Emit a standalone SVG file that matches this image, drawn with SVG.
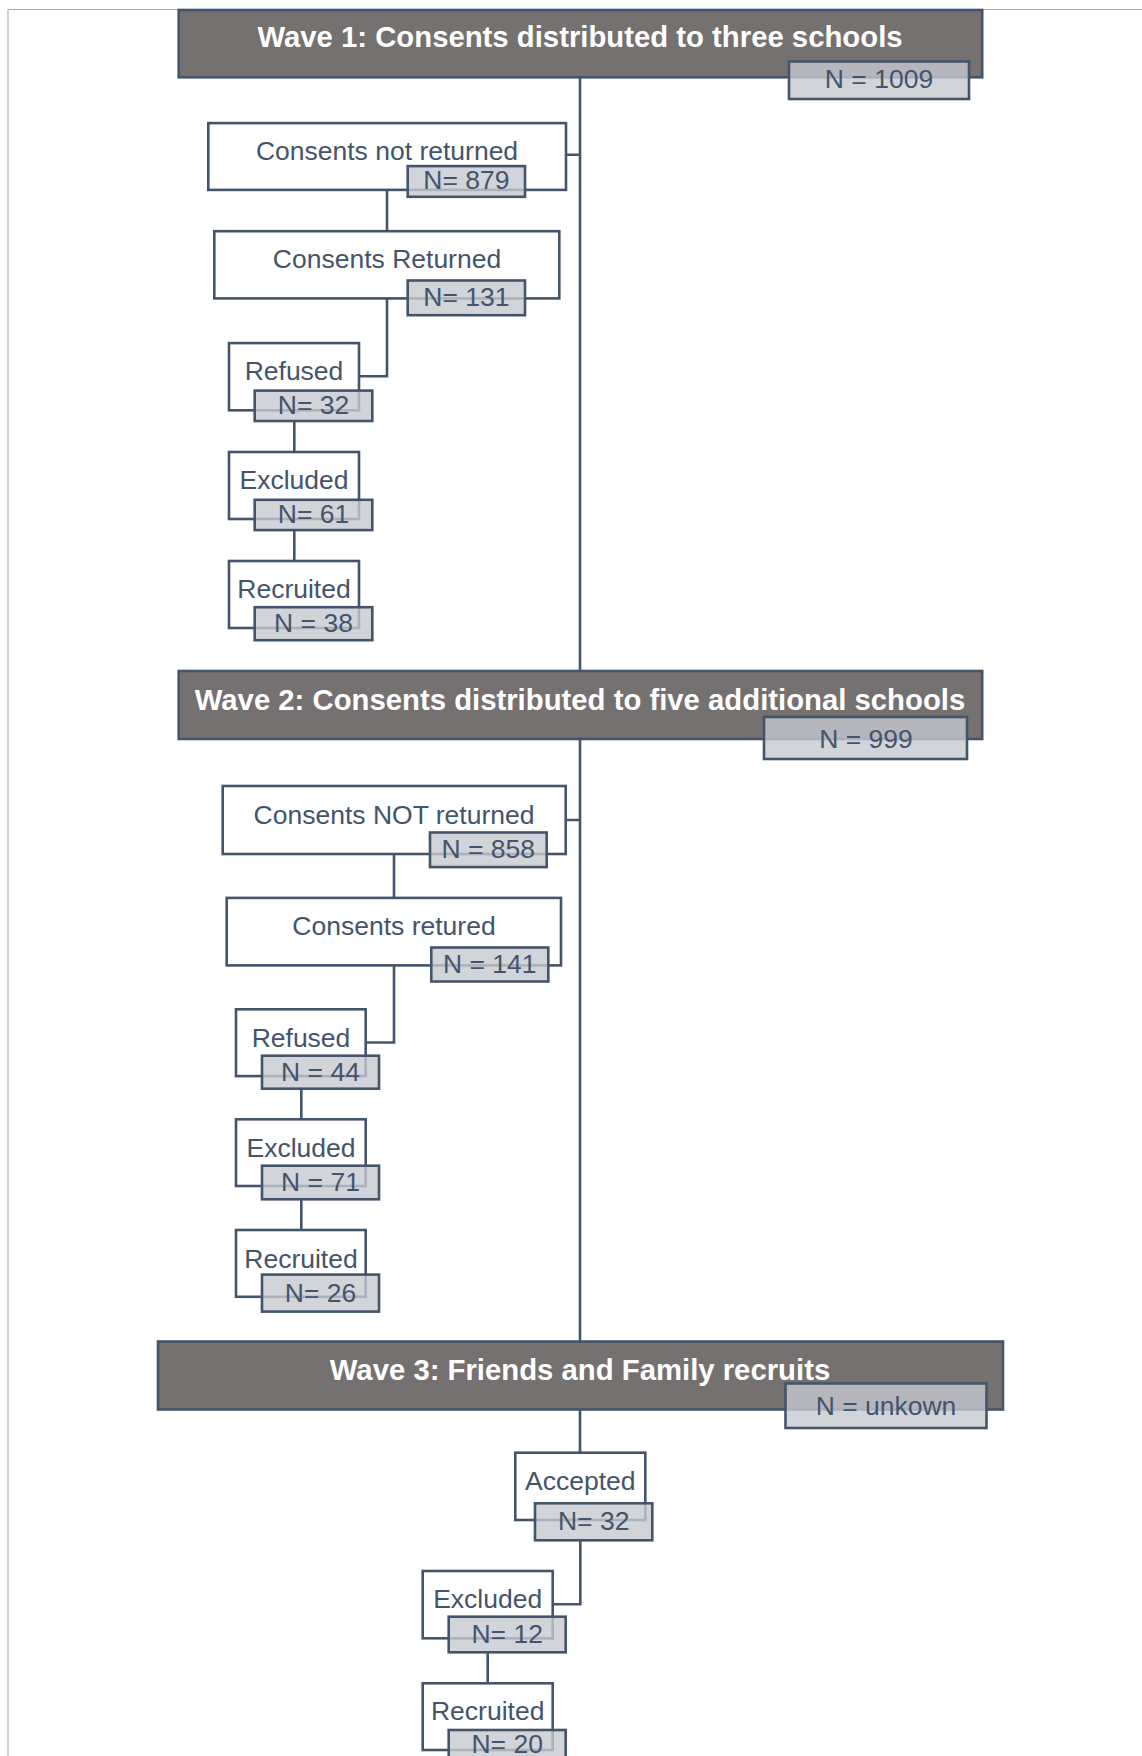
<svg xmlns="http://www.w3.org/2000/svg" width="1142" height="1756" viewBox="0 0 1142 1756">
<style>
.frame{fill:none;stroke:#a6a6a6;stroke-width:1}
.box{fill:#fff;stroke:#44546a;stroke-width:2.6}
.hdr{fill:#767171;stroke:#44546a;stroke-width:2.6}
.badge{fill:#c6c9cf;fill-opacity:.8;stroke:#44546a;stroke-width:2.6}
.t{font-family:"Liberation Sans",Arial,sans-serif;font-size:26.5px;fill:#44546a;text-anchor:middle}
.h{font-family:"Liberation Sans",Arial,sans-serif;font-size:29.3px;font-weight:bold;fill:#fff;text-anchor:middle}
.c{fill:none;stroke:#44546a;stroke-width:2.6}
</style>
<rect width="1142" height="1756" fill="#fff"/>
<path class="frame" d="M8,9.5 H1142 M8,9.5 V1756"/>
<g id="connectors">
<path class="c" d="M580,77 V671 M580,739 V1341.5 M580,1409.5 V1452.7"/>
<path class="c" d="M566,154.8 H580 M387,189.9 V231.2 M387,298.4 V376.2 H359 M294.3,421 V452 M294.3,530.1 V561"/>
<path class="c" d="M565.7,820 H580 M394,853.9 V897.9 M394,965.4 V1042.5 H365.7 M301.3,1088.6 V1119.3 M301.3,1199.3 V1230"/>
<path class="c" d="M580.3,1540.3 V1604.3 H552.7 M487.7,1652.3 V1683.3"/>
</g>
<g id="wave1">
<rect class="hdr" x="178.7" y="10" width="803.5" height="67.3"/>
<text class="h" x="580" y="46.7">Wave 1: Consents distributed to three schools</text>
<rect class="badge" x="789" y="61.5" width="180" height="37.5"/>
<text class="t" x="879" y="88">N = 1009</text>
</g>
<g id="w1-not-returned">
<rect class="box" x="208.3" y="123.1" width="357.7" height="66.8"/>
<text class="t" x="387" y="160">Consents not returned</text>
<rect class="badge" x="407.7" y="166.1" width="117.3" height="30.7"/>
<text class="t" x="466.4" y="189">N= 879</text>
</g>
<g id="w1-returned">
<rect class="box" x="214.3" y="231.2" width="345" height="67.2"/>
<text class="t" x="387" y="268.4">Consents Returned</text>
<rect class="badge" x="407.7" y="280.5" width="117.3" height="34.7"/>
<text class="t" x="466.4" y="305.5">N= 131</text>
</g>
<g id="w1-refused">
<rect class="box" x="229" y="343.1" width="130" height="67.2"/>
<text class="t" x="294" y="380.3">Refused</text>
<rect class="badge" x="254.7" y="390.6" width="117.6" height="30.4"/>
<text class="t" x="313.5" y="413.5">N= 32</text>
</g>
<g id="w1-excluded">
<rect class="box" x="229" y="452" width="130" height="67"/>
<text class="t" x="294" y="488.8">Excluded</text>
<rect class="badge" x="254.7" y="499.8" width="117.6" height="30.3"/>
<text class="t" x="313.5" y="522.5">N= 61</text>
</g>
<g id="w1-recruited">
<rect class="box" x="229" y="561" width="130" height="67"/>
<text class="t" x="294" y="598.3">Recruited</text>
<rect class="badge" x="254.7" y="607.2" width="117.6" height="33"/>
<text class="t" x="313.5" y="632">N = 38</text>
</g>
<g id="wave2">
<rect class="hdr" x="178.7" y="671" width="803.5" height="68"/>
<text class="h" x="580" y="710">Wave 2: Consents distributed to five additional schools</text>
<rect class="badge" x="764" y="717" width="203" height="42"/>
<text class="t" x="866" y="748">N = 999</text>
</g>
<g id="w2-not-returned">
<rect class="box" x="222.7" y="786" width="343" height="68"/>
<text class="t" x="394" y="823.6">Consents NOT returned</text>
<rect class="badge" x="430" y="832.5" width="116.7" height="34.6"/>
<text class="t" x="488.3" y="857.5">N = 858</text>
</g>
<g id="w2-returned">
<rect class="box" x="226.7" y="897.9" width="334.3" height="67.5"/>
<text class="t" x="394" y="935">Consents retured</text>
<rect class="badge" x="431.3" y="947.5" width="117" height="34"/>
<text class="t" x="489.8" y="972.5">N = 141</text>
</g>
<g id="w2-refused">
<rect class="box" x="236" y="1009.3" width="129.7" height="66.8"/>
<text class="t" x="301" y="1046.8">Refused</text>
<rect class="badge" x="262" y="1055.7" width="117" height="33"/>
<text class="t" x="320.5" y="1080.7">N = 44</text>
</g>
<g id="w2-excluded">
<rect class="box" x="236" y="1119.3" width="129.7" height="66.7"/>
<text class="t" x="301" y="1156.8">Excluded</text>
<rect class="badge" x="262" y="1165.7" width="117" height="33.6"/>
<text class="t" x="320.5" y="1191">N = 71</text>
</g>
<g id="w2-recruited">
<rect class="box" x="236" y="1230" width="129.7" height="66.8"/>
<text class="t" x="301" y="1267.5">Recruited</text>
<rect class="badge" x="262" y="1274.6" width="117" height="37"/>
<text class="t" x="320.5" y="1301.5">N= 26</text>
</g>
<g id="wave3">
<rect class="hdr" x="158" y="1341.5" width="845" height="68"/>
<text class="h" x="580" y="1380">Wave 3: Friends and Family recruits</text>
<rect class="badge" x="785.5" y="1383.5" width="201" height="44.5"/>
<text class="t" x="886" y="1415">N = unkown</text>
</g>
<g id="w3-accepted">
<rect class="box" x="515.3" y="1452.7" width="130" height="67.3"/>
<text class="t" x="580.3" y="1490">Accepted</text>
<rect class="badge" x="535" y="1503.3" width="117.3" height="37"/>
<text class="t" x="593.7" y="1529.5">N= 32</text>
</g>
<g id="w3-excluded">
<rect class="box" x="422.7" y="1571" width="130" height="67.3"/>
<text class="t" x="487.7" y="1607.7">Excluded</text>
<rect class="badge" x="448.7" y="1616.7" width="117" height="35.6"/>
<text class="t" x="507.2" y="1642.7">N= 12</text>
</g>
<g id="w3-recruited">
<rect class="box" x="422.7" y="1683.3" width="130" height="66.7"/>
<text class="t" x="487.7" y="1720">Recruited</text>
<rect class="badge" x="448.7" y="1730" width="117" height="36"/>
<text class="t" x="507.2" y="1753">N= 20</text>
</g>
</svg>
